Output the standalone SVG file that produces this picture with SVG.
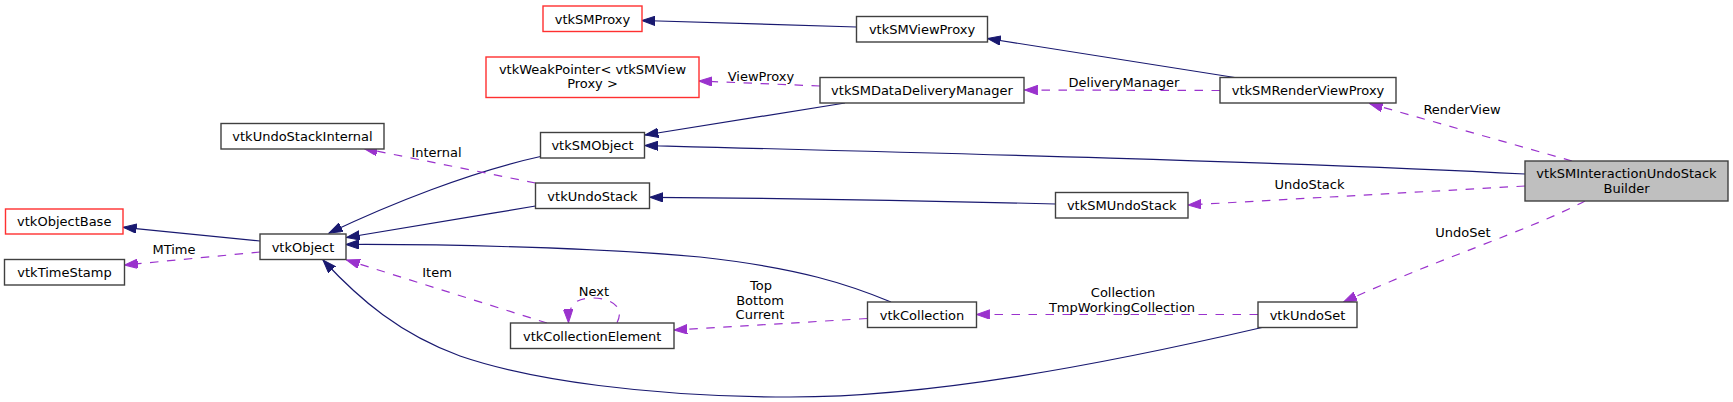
<svg xmlns="http://www.w3.org/2000/svg" width="1733" height="402" viewBox="0 0 1733 402">
<style>
text{font-family:"DejaVu Sans","Liberation Sans",sans-serif;font-size:13px;fill:#000;text-anchor:middle}
.box{fill:#fff;stroke:#404040;stroke-width:1.4}
.red{fill:#fff;stroke:#ff3030;stroke-width:1.4}
.cur{fill:#bfbfbf;stroke:#404040;stroke-width:1.4}
.inh{fill:none;stroke:#191970;stroke-width:1.2;marker-end:url(#an)}
.use{fill:none;stroke:#9a32cd;stroke-width:1.2;stroke-dasharray:8.5,8.5;marker-end:url(#ap)}
</style>
<defs>
<marker id="an" markerUnits="userSpaceOnUse" markerWidth="14" markerHeight="10" viewBox="0 0 14 10" refX="13.3" refY="4.7" orient="auto"><path d="M0,0 L13.3,4.7 L0,9.4 z" fill="#191970" stroke="#191970" stroke-width="1"/></marker>
<marker id="ap" markerUnits="userSpaceOnUse" markerWidth="14" markerHeight="10" viewBox="0 0 14 10" refX="13.3" refY="4.7" orient="auto"><path d="M0,0 L13.3,4.7 L0,9.4 z" fill="#9a32cd" stroke="#9a32cd" stroke-width="1"/></marker>
</defs>
<rect width="1733" height="402" fill="#fff"/>
<g id="edges">
<path class="inh" d="M856.5,27 L642,20.5"/>
<path class="inh" d="M1238,78 L987.5,38.5"/>
<path class="inh" d="M845,103 L645,135"/>
<path class="inh" d="M1525,174 C1300,162 900,152 645,145.5"/>
<path class="inh" d="M1055.5,204 C900,200 750,198 650,197.3"/>
<path class="inh" d="M540.5,156.5 C470,172 390,204 329,233"/>
<path class="inh" d="M535.5,206 C470,217 400,229 346.5,237.5"/>
<path class="inh" d="M891,302 C850,285 800,268 700,257 C600,248 450,244 346,244.5"/>
<path class="inh" d="M1262,327.5 C1100,365 930,397 790,397 C650,397 530,380 460,356 C400,334 360,300 323,260"/>
<path class="inh" d="M260,241 L123.3,227.3"/>
<path class="use" d="M820,86 L699,81"/>
<text x="761" y="80.5">ViewProxy</text>
<path class="use" d="M1220,90.5 L1024.5,90"/>
<text x="1124" y="87">DeliveryManager</text>
<path class="use" d="M1572,161 L1369.5,103.5"/>
<text x="1462" y="113.5">RenderView</text>
<path class="use" d="M1525,186 L1188,205"/>
<text x="1309.5" y="189">UndoStack</text>
<path class="use" d="M1585,201 C1530,230 1430,262 1343.5,302"/>
<text x="1463" y="236.5">UndoSet</text>
<path class="use" d="M1258,314.5 L976.5,314.5"/>
<text x="1123" y="296.5">Collection</text>
<text x="1122" y="311.5">TmpWorkingCollection</text>
<path class="use" d="M867.5,318.5 L674,330"/>
<text x="761" y="289.5">Top</text>
<text x="760" y="304.5">Bottom</text>
<text x="760" y="319">Current</text>
<path class="use" d="M547,323 L346.5,260"/>
<text x="437" y="276.5">Item</text>
<path class="use" d="M617,322.7 C626,305 608,298 592,298 C576,298 568,305 568.5,322.7"/>
<text x="594" y="295.5">Next</text>
<path class="use" d="M535.5,183 L364,148.5"/>
<text x="436.5" y="156.5">Internal</text>
<path class="use" d="M260,252 L124.5,265"/>
<text x="174" y="253.5">MTime</text>
</g>
<g id="vtkSMProxy"><rect class="red" x="543" y="6" width="99" height="25.5"/><text x="592.5" y="23.5">vtkSMProxy</text></g>
<g id="vtkSMViewProxy"><rect class="box" x="856.5" y="16.5" width="131" height="25.5"/><text x="922" y="34">vtkSMViewProxy</text></g>
<g id="vtkWeakPointer"><rect class="red" x="486" y="57" width="213" height="40.5"/><text x="592.5" y="73.5">vtkWeakPointer&lt; vtkSMView</text><text x="592.5" y="88">Proxy &gt;</text></g>
<g id="vtkSMDataDeliveryManager"><rect class="box" x="820" y="77.5" width="204" height="25.5"/><text x="922" y="95">vtkSMDataDeliveryManager</text></g>
<g id="vtkSMRenderViewProxy"><rect class="box" x="1220" y="77.5" width="176" height="25.5"/><text x="1308" y="95">vtkSMRenderViewProxy</text></g>
<g id="vtkUndoStackInternal"><rect class="box" x="221" y="123.5" width="163" height="25.5"/><text x="302.5" y="141">vtkUndoStackInternal</text></g>
<g id="vtkSMObject"><rect class="box" x="540.5" y="132.5" width="104" height="25.5"/><text x="592.5" y="150">vtkSMObject</text></g>
<g id="vtkUndoStack"><rect class="box" x="535.5" y="183" width="114" height="25.5"/><text x="592.5" y="200.5">vtkUndoStack</text></g>
<g id="vtkSMInteractionUndoStackBuilder"><rect class="cur" x="1525" y="161" width="203" height="40"/><text x="1626.5" y="178">vtkSMInteractionUndoStack</text><text x="1626.5" y="192.5">Builder</text></g>
<g id="vtkSMUndoStack"><rect class="box" x="1055.5" y="192.5" width="132.5" height="25.5"/><text x="1121.75" y="210">vtkSMUndoStack</text></g>
<g id="vtkObjectBase"><rect class="red" x="5.5" y="209" width="117.5" height="25"/><text x="64.25" y="226.3">vtkObjectBase</text></g>
<g id="vtkTimeStamp"><rect class="box" x="4.5" y="259.5" width="120" height="25.5"/><text x="64.5" y="277">vtkTimeStamp</text></g>
<g id="vtkObject"><rect class="box" x="260" y="234" width="86" height="25.5"/><text x="303" y="251.5">vtkObject</text></g>
<g id="vtkCollectionElement"><rect class="box" x="510.5" y="323" width="163.5" height="25.5"/><text x="592.25" y="340.5">vtkCollectionElement</text></g>
<g id="vtkCollection"><rect class="box" x="867.5" y="302" width="109" height="25.5"/><text x="922" y="319.5">vtkCollection</text></g>
<g id="vtkUndoSet"><rect class="box" x="1258" y="302" width="99" height="25.5"/><text x="1307.5" y="319.5">vtkUndoSet</text></g>
</svg>
